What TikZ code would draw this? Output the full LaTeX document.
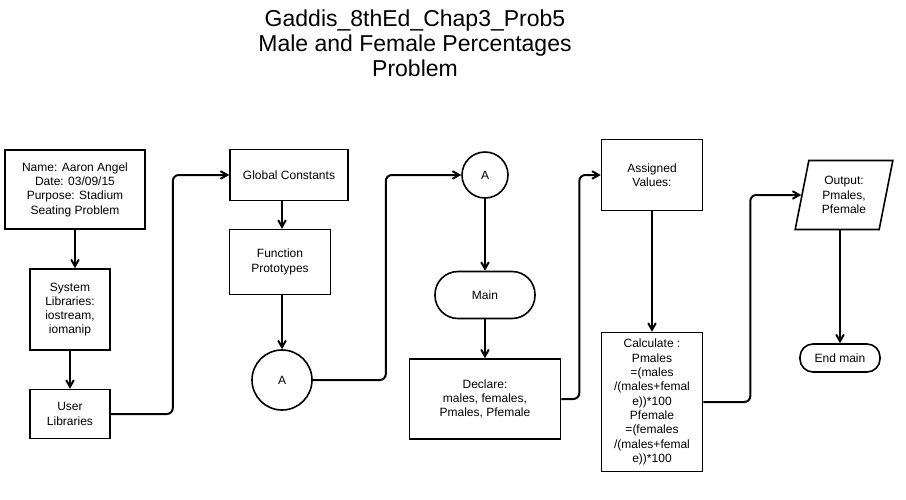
\documentclass[tikz,border=0pt]{standalone}
\usepackage{fontspec}
\setmainfont{Liberation Sans}
\usetikzlibrary{arrows,calc,shapes.geometric}

\begin{document}
\begin{tikzpicture}[x=1pt,y=-1pt,>=angle 60,
  box/.style={draw,line width=1.6pt,align=center,inner sep=0pt,font=\fontsize{12}{14.3}\selectfont},
  term/.style={box,rounded corners=#1},
  conn/.style={line width=2pt,->},
  flow/.style={line width=2pt,->,rounded corners=6pt}]
\useasboundingbox (0,0) rectangle (906,499);

\node[align=center,font=\fontsize{23}{25}\selectfont] (title) at (415,43) {Gaddis\_8thEd\_Chap3\_Prob5\\Male and Female Percentages\\Problem};

% column 1
\node[box,minimum width=140,minimum height=79] (name) at (75,189.5) {Name: Aaron Angel\\Date: 03/09/15\\Purpose: Stadium\\Seating Problem};
\node[box,minimum width=80,minimum height=81] (sys) at (70,309.5) {System\\Libraries:\\iostream,\\iomanip};
\node[box,minimum width=80,minimum height=49] (user) at (70,414) {User\\Libraries};

% column 2
\node[box,minimum width=118,minimum height=51] (glob) at (289,175) {Global Constants};
\node[box,minimum width=101,minimum height=65] (func) at (280,262) {Function\\Prototypes};
\node[box,circle,minimum size=60] (a1) at (282,380) {A};

% column 3
\node[box,circle,minimum size=46] (a2) at (485,175) {A};
\node[term=23pt,minimum width=100,minimum height=47] (main) at (485,295) {Main};
\node[box,minimum width=151,minimum height=80] (decl) at (485,399) {Declare:\\males, females,\\Pmales, Pfemale};

% column 4
\node[box,minimum width=101,minimum height=71] (assign) at (652,175) {Assigned\\Values:};
\node[box,minimum width=101,minimum height=139] (calc) at (652,402) {Calculate :\\Pmales\\=(males\\/(males+femal\\e))*100\\Pfemale\\=(females\\/(males+femal\\e))*100};

% column 5
\node[box,trapezium,trapezium left angle=77,trapezium right angle=103,trapezium stretches=true,minimum width=98,minimum height=69] (out) at (844,195) {Output:\\Pmales,\\Pfemale};
\node[term=13pt,minimum width=80,minimum height=28] (endm) at (840,358) {End main};

\draw[conn] (name.south) -- (name.south |- sys.north);
\draw[conn] (sys) -- (user);
\draw[flow] (user.east) -- ++(62,0) |- (glob.west);
\draw[conn] (glob.south -| a1) -- (func.north -| a1);
\draw[conn] (func.south -| a1) -- (a1.north);
\draw[flow] (a1.east) -- ++(73,0) |- (a2.west);
\draw[conn] (a2) -- (main);
\draw[conn] (main) -- (decl);
\draw[flow] (decl.east) -- ++(18,0) |- (assign.west);
\draw[conn] (assign) -- (calc);
\draw[flow] (calc.east) -- ++(47,0) |- (out.west);
\draw[conn] (out.south -| endm) -- (endm.north);
\end{tikzpicture}
\end{document}
